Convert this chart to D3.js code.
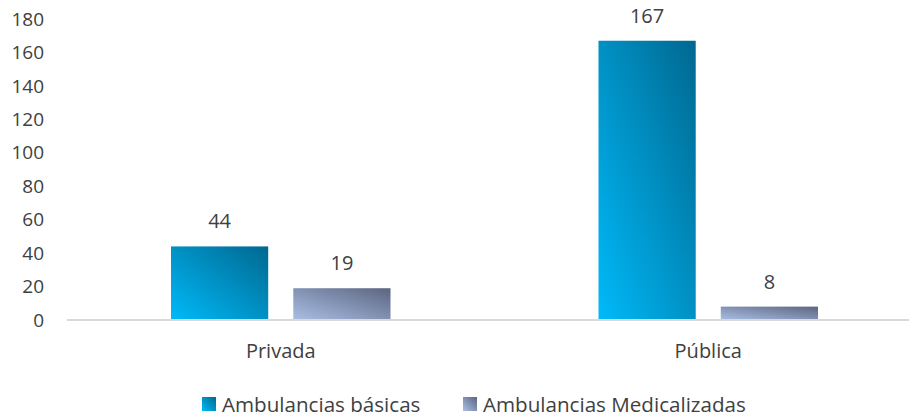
<!DOCTYPE html>
<html>
<head>
<meta charset="utf-8">
<script src="https://cdn.jsdelivr.net/npm/d3@7"></script>
<style>
  html, body {
    margin: 0;
    padding: 0;
    background: #fff;
  }

  #chart {
    display: block;
    font-family: "Open Sans", sans-serif;
  }

  .tick-label,
  .cat-label,
  .value-label,
  .legend-label {
    fill: #404040;
  }

  .tick-label {
    font-size: 19px;
  }

  .value-label {
    font-size: 20px;
  }

  .cat-label {
    font-size: 20px;
  }

  .legend-label {
    font-size: 20.6px;
  }
</style>
</head>
<body>
<svg id="chart" width="909" height="417"></svg>
<script>
const categories = ["Privada", "Pública"];
const seriesNames = ["Ambulancias básicas", "Ambulancias Medicalizadas"];
const basicas = [44, 167];
const medicalizadas = [19, 8];
const yTicks = [0, 20, 40, 60, 80, 100, 120, 140, 160, 180];

const seriesValues = [basicas, medicalizadas];
const width = 909;

const svg = d3.select("#chart");

//=== Gradients ===
const defs = svg.append("defs");
const gradients = [
  { id: "grad-basicas", light: "#00baf9", dark: "#006890" },
  { id: "grad-medical", light: "#aabfe5", dark: "#5b6580" },
];
gradients.forEach((g) => {
  const lg = defs
    .append("linearGradient")
    .attr("id", g.id)
    .attr("x1", 0)
    .attr("y1", 1)
    .attr("x2", 1)
    .attr("y2", 0);
  lg.append("stop").attr("offset", "0%").attr("stop-color", g.light);
  lg.append("stop").attr("offset", "100%").attr("stop-color", g.dark);
});

//=== Scales ===
const x = d3.scaleBand().domain(categories).range([67, 922]);
const xInner = d3
  .scaleBand()
  .domain(seriesNames)
  .range([104, x.bandwidth() - 104])
  .paddingInner(0.205);

const y = d3.scaleLinear().domain([0, 180]).range([320, 19]);

//=== Y tick labels ===
svg
  .append("g")
  .selectAll("text")
  .data(yTicks)
  .join("text")
  .attr("class", "tick-label")
  .attr("x", 44)
  .attr("y", (d) => y(d))
  .attr("dy", "0.35em")
  .attr("text-anchor", "end")
  .text((d) => d);

//=== Bars ===
const groups = svg
  .append("g")
  .selectAll("g")
  .data(categories)
  .join("g")
  .attr("transform", (d) => `translate(${x(d)},0)`);

groups.each(function (cat, ci) {
  const g = d3.select(this);
  seriesNames.forEach((name, si) => {
    const v = seriesValues[si][ci];
    g.append("rect")
      .attr("x", xInner(name))
      .attr("y", y(v))
      .attr("width", xInner.bandwidth())
      .attr("height", y(0) - y(v))
      .attr("fill", `url(#${gradients[si].id})`);
    g.append("text")
      .attr("class", "value-label")
      .attr("x", xInner(name) + xInner.bandwidth() / 2)
      .attr("y", y(v) - 18)
      .attr("text-anchor", "middle")
      .text(v);
  });
});

//=== X axis line ===
svg
  .append("line")
  .attr("x1", 67)
  .attr("x2", width)
  .attr("y1", y(0))
  .attr("y2", y(0))
  .attr("stroke", "#d9d9d9")
  .attr("stroke-width", 2);

//=== Category labels ===
svg
  .append("g")
  .selectAll("text")
  .data(categories)
  .join("text")
  .attr("class", "cat-label")
  .attr("x", (d) => x(d) + x.bandwidth() / 2)
  .attr("y", 358)
  .attr("text-anchor", "middle")
  .text((d) => d);

//=== Legend ===
const legendX = [202, 463];
const legend = svg
  .append("g")
  .selectAll("g")
  .data(seriesNames)
  .join("g")
  .attr("transform", (d, i) => `translate(${legendX[i]},397)`);

legend
  .append("rect")
  .attr("width", 14)
  .attr("height", 14)
  .attr("fill", (d, i) => `url(#${gradients[i].id})`);

legend
  .append("text")
  .attr("class", "legend-label")
  .attr("x", 20)
  .attr("y", 15)
  .text((d) => d);
</script>
</body>
</html>
